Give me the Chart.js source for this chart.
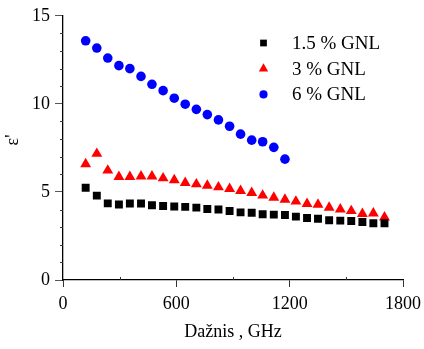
<!DOCTYPE html>
<html>
<head>
<meta charset="utf-8">
<script src="https://cdn.jsdelivr.net/npm/chart.js@4.4.1/dist/chart.umd.min.js"></script>
<style>
	body { margin: 0; background: #fff; }
</style>
</head>
<body>
<canvas id="myChart" width="424" height="349"></canvas>
<script>
// 1. 데이터 (주파수 GHz, 유전율 ε')
const freq = [120, 179, 237, 296, 354, 413, 471, 530, 589, 647, 706, 764, 823, 882,
	940, 999, 1057, 1116, 1175, 1233, 1292, 1350, 1409, 1468, 1526, 1585, 1643, 1702];

const gnl15 = [5.24, 4.79, 4.35, 4.29, 4.34, 4.34, 4.24, 4.20, 4.17, 4.15, 4.11, 4.03, 4.00, 3.92,
	3.84, 3.82, 3.73, 3.71, 3.69, 3.60, 3.52, 3.48, 3.39, 3.37, 3.35, 3.29, 3.22, 3.22];

const gnl3 = [6.58, 7.17, 6.22, 5.86, 5.86, 5.89, 5.89, 5.78, 5.67, 5.52, 5.44, 5.36, 5.27, 5.18,
	5.06, 4.95, 4.80, 4.68, 4.57, 4.46, 4.33, 4.28, 4.11, 4.01, 3.92, 3.76, 3.78, 3.56];

// 6 % 는 1175 GHz 까지만 측정
const gnl6 = [13.58, 13.17, 12.60, 12.17, 12.00, 11.56, 11.11, 10.75, 10.32, 9.98,
	9.69, 9.39, 9.09, 8.73, 8.28, 7.94, 7.85, 7.53, 6.86];

const labels = ['1.5 % GNL', '3 % GNL', '6 % GNL'];
const xTicks = [0, 600, 1200, 1800];
const yTicks = [0, 5, 10, 15];

const serif = "'Liberation Serif', 'Times New Roman', serif";

function toPoints(ys){
	let pts = [];
	for(let i = 0; i < ys.length; i++){
		pts.push({ x: freq[i], y: ys[i] });
	}
	return pts;
}

// 2. 보조 눈금 (minor tick) + 세로축 제목
const minorTicks = {
	id: 'minorTicks',
	afterDraw(chart){
		const ctx = chart.ctx;
		const xs = chart.scales.x;
		const ys = chart.scales.y;
		ctx.save();
		ctx.strokeStyle = '#333';
		ctx.lineWidth = 1;
		for(let v = 300; v < 1800; v += 600){
			let px = Math.round(xs.getPixelForValue(v)) + 0.5;
			ctx.beginPath();
			ctx.moveTo(px, xs.top);
			ctx.lineTo(px, xs.top - 3);
			ctx.stroke();
		}
		for(let v = 1; v < 15; v++){
			if(v % 5 == 0) continue;
			let py = Math.round(ys.getPixelForValue(v)) + 0.5;
			ctx.beginPath();
			ctx.moveTo(ys.right, py);
			ctx.lineTo(ys.right - 3, py);
			ctx.stroke();
		}

		// ε' 는 축 가운데보다 살짝 위쪽에
		ctx.translate(13, 140);
		ctx.rotate(-Math.PI / 2);
		ctx.font = '18px ' + serif;
		ctx.fillStyle = '#000';
		ctx.textAlign = 'center';
		ctx.textBaseline = 'middle';
		ctx.fillText("ε'", 0, 0);
		ctx.restore();
	}
};

// 3. 범례는 그래프 안쪽 오른쪽 위에 직접 그리기
const innerLegend = {
	id: 'innerLegend',
	afterDraw(chart){
		const ctx = chart.ctx;
		const sets = chart.data.datasets;
		ctx.save();
		ctx.font = '19px ' + serif;
		ctx.textBaseline = 'middle';
		for(let i = 0; i < sets.length; i++){
			let d = sets[i];
			let y = 43 + i * 25.7;
			ctx.fillStyle = d.backgroundColor;
			ctx.strokeStyle = d.borderColor;
			Chart.helpers.drawPoint(ctx, {
				pointStyle: d.pointStyle,
				radius: d.pointRadius * 0.85,
				rotation: 0,
				borderWidth: 0
			}, 263.5, y);
			ctx.fillStyle = '#000';
			ctx.fillText(d.label, 292, y + 1);
		}
		ctx.restore();
	}
};

const ctx = document.getElementById('myChart');

new Chart(ctx, {
	type: 'scatter',
	data: {
		datasets: [
			{ label: labels[0], data: toPoints(gnl15), pointStyle: 'rect', pointRadius: 5.6,
				backgroundColor: '#000', borderColor: '#000', borderWidth: 0 },
			{ label: labels[1], data: toPoints(gnl3), pointStyle: 'triangle', pointRadius: 6.3,
				backgroundColor: '#ff0000', borderColor: '#ff0000', borderWidth: 0 },
			{ label: labels[2], data: toPoints(gnl6), pointStyle: 'circle', pointRadius: 4.8,
				backgroundColor: '#0000ff', borderColor: '#0000ff', borderWidth: 0 }
		]
	},
	options: {
		responsive: false,
		animation: false,
		devicePixelRatio: 1,
		layout: { padding: { left: 0, top: 15, right: 21, bottom: 0 } },
		plugins: {
			legend: { display: false },
			tooltip: { enabled: false }
		},
		scales: {
			x: {
				type: 'linear',
				min: 0, max: 1800,
				afterBuildTicks(scale){ scale.ticks = xTicks.map(v => ({ value: v })); },
				afterFit(scale){
					scale.height = 69;
					// 마지막 라벨 때문에 오른쪽 여백이 늘어나지 않게
					scale.paddingLeft = 0;
					scale.paddingRight = 0;
				},
				ticks: { color: '#000', padding: 6, autoSkip: false, maxRotation: 0,
					font: { family: serif, size: 18 }, callback: v => String(v) },
				grid: { drawOnChartArea: false, tickLength: 7, color: '#333' },
				border: { color: '#000', width: 1.3 },
				title: { display: true, text: 'Dažnis , GHz', color: '#000',
					font: { family: serif, size: 18 }, padding: { top: 2, bottom: 6 } }
			},
			y: {
				min: 0, max: 15,
				afterBuildTicks(scale){ scale.ticks = yTicks.map(v => ({ value: v })); },
				afterFit(scale){ scale.width = 63; },
				ticks: { color: '#000', padding: 5, autoSkip: false,
					font: { family: serif, size: 18 }, callback: v => String(v) },
				grid: { drawOnChartArea: false, tickLength: 8, color: '#555' },
				border: { color: '#000', width: 1.3 }
			}
		}
	},
	plugins: [minorTicks, innerLegend]
});
</script>
</body>
</html>
